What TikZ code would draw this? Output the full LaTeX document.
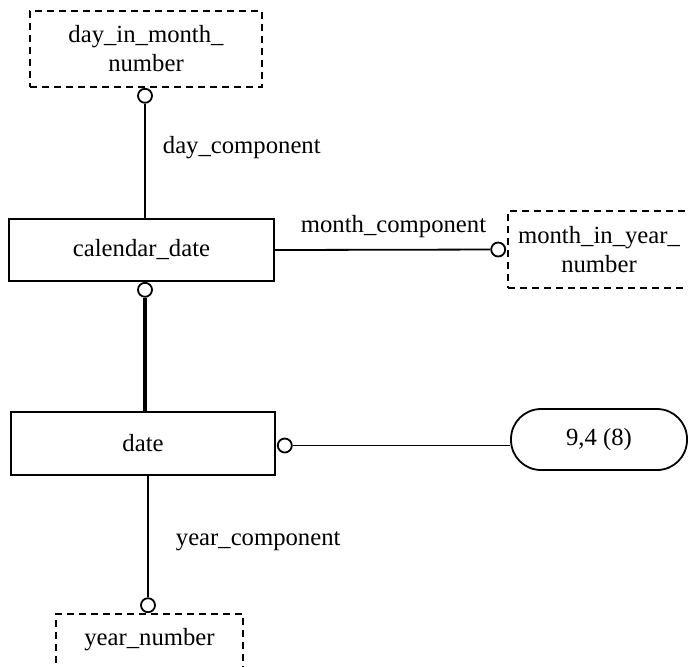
\documentclass[tikz,border=0pt]{standalone}
\usepackage{fontspec}
\setmainfont{Liberation Serif}
\usepackage{tikz}
\usetikzlibrary{calc}
\usetikzlibrary{positioning}

\begin{document}
\begin{tikzpicture}[x=0.5pt, y=-0.5pt, line width=0.9pt,
	every node/.style={font=\fontsize{12.35pt}{14.5pt}\selectfont}]
	% ------------------------------------------------------------------
	% FRAME
	% ------------------------------------------------------------------
	\useasboundingbox (0,0) rectangle (688,666);
	\clip (0,0) rectangle (688,666);
	
	% ------------------------------------------------------------------
	% STYLE DEFINITIONS
	% ------------------------------------------------------------------
	\tikzset{
		entity/.style  = {draw, rectangle, inner sep=0pt, align=center},
		typebox/.style = {draw, rectangle, inner sep=0pt, align=center,
			dash pattern=on 3.5pt off 2.5pt},
		valbox/.style  = {draw, rectangle, rounded corners=15pt, inner sep=0pt},
		ring/.style    = {draw, circle, fill=white, minimum size=7pt, inner sep=0pt},
		rel/.style     = {line width=0.9pt},
		relthick/.style= {line width=2.2pt},
		lbl/.style     = {anchor=base west, inner sep=0pt},
	}
	
	% ------------------------------------------------------------------
	% BOXES
	% ------------------------------------------------------------------
	\node[typebox, minimum width=116pt, minimum height=38pt] (dimn) at (146,49)
		{day\_in\_month\_\\number};
	\node[entity, minimum width=132.5pt, minimum height=31pt] (cdate) at (141.5,250)
		{calendar\_date};
	\node[typebox, minimum width=91pt, minimum height=38.5pt] (miyn) at (599,249.5)
		{month\_in\_year\_\\number};
	\node[entity, minimum width=132pt, minimum height=31.5pt] (date) at (143,443.5)
		{date};
	\node[valbox, minimum width=88pt, minimum height=30.5pt] (val) at (599,439.5)
		{9,4 (8)};
	\node[typebox, minimum width=93.5pt, minimum height=38pt,
		text height=9pt, text depth=16pt] (yn) at (149.5,652)
		{year\_number};
	
	% ------------------------------------------------------------------
	% RELATIONS
	% ------------------------------------------------------------------
	% 1.  calendar_date -> day_in_month_number
	\node[ring, anchor=north] (c1) at ($(dimn.south)+(-1,0)$) {};
	\draw[rel] (c1) -- (c1 |- cdate.north);
	\node[lbl] (ldc) at (162,153) {day\_component};
	
	% 2.  calendar_date -> month_in_year_number
	\node[ring, anchor=east] (c4) at ($(miyn.west)+(-1,0)$) {};
	\draw[rel] (cdate.east) -- (c4);
	\node[lbl] (lmc) at (300,232) {month\_component};
	
	% 3.  date -> calendar_date (subtype)
	\node[ring, anchor=north] (c2) at (c1 |- cdate.south) {};
	\draw[relthick] (c2) -- (c2 |- date.north);
	
	% 4.  date -> 9,4 (8)
	\node[ring, anchor=west] (c5) at ($(date.east)+(1,2)$) {};
	\draw[rel] (c5) -- (c5 -| val.west);
	
	% 5.  date -> year_number
	\node[ring, anchor=south] (c3) at ($(yn.north)+(-1.5,0)$) {};
	\draw[rel] (c3) -- (c3 |- date.south);
	\node[lbl] (lyc) at (175,545) {year\_component};
	
\end{tikzpicture}
\end{document}
